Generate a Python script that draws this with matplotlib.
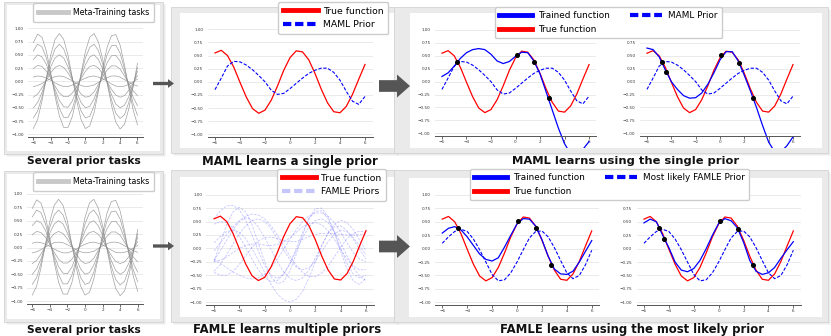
import numpy as np
import matplotlib.pyplot as plt
from matplotlib.patches import Rectangle, FancyArrow
from matplotlib.lines import Line2D

W, H = 831, 336

x = [-6.0, -5.5, -5.0, -4.5, -4.0, -3.5, -3.0, -2.5, -2.0, -1.5, -1.0, -0.5, 0.0,
     0.5, 1.0, 1.5, 2.0, 2.5, 3.0, 3.5, 4.0, 4.5, 5.0, 5.5, 6.0]

xticks = [-6, -4, -2, 0, 2, 4, 6]
yticks = [-1.0, -0.75, -0.5, -0.25, 0.0, 0.25, 0.5, 0.75, 1.0]

# meta-training tasks (grey)
tasks = [
    [0.73, 0.89, 0.83, 0.57, 0.17, -0.28, -0.65, -0.87, -0.87, -0.66, -0.29, 0.15, 0.56, 0.83, 0.90, 0.74, 0.41, -0.03, -0.45, -0.77, -0.90, -0.81, -0.52, -0.10, 0.34],
    [0.57, 0.70, 0.65, 0.44, 0.13, -0.21, -0.51, -0.68, -0.68, -0.52, -0.23, 0.12, 0.44, 0.64, 0.70, 0.58, 0.32, -0.02, -0.35, -0.60, -0.70, -0.63, -0.40, -0.08, 0.26],
    [0.41, 0.50, 0.46, 0.32, 0.09, -0.15, -0.36, -0.48, -0.49, -0.37, -0.16, 0.09, 0.31, 0.46, 0.50, 0.41, 0.23, -0.01, -0.25, -0.43, -0.50, -0.45, -0.29, -0.06, 0.19],
    [0.24, 0.30, 0.28, 0.19, 0.06, -0.09, -0.22, -0.29, -0.29, -0.22, -0.10, 0.05, 0.19, 0.28, 0.30, 0.25, 0.14, -0.01, -0.15, -0.26, -0.30, -0.27, -0.17, -0.03, 0.11],
    [0.08, 0.10, 0.09, 0.06, 0.02, -0.03, -0.07, -0.10, -0.10, -0.07, -0.03, 0.02, 0.06, 0.09, 0.10, 0.08, 0.05, 0.00, -0.05, -0.09, -0.10, -0.09, -0.06, -0.01, 0.04],
    [-0.89, -0.72, -0.37, 0.06, 0.49, 0.79, 0.90, 0.79, 0.49, 0.06, -0.37, -0.72, -0.89, -0.84, -0.59, -0.19, 0.26, 0.64, 0.86, 0.88, 0.68, 0.31, -0.13, -0.54, -0.82],
    [-0.69, -0.56, -0.29, 0.05, 0.38, 0.61, 0.70, 0.61, 0.38, 0.05, -0.29, -0.56, -0.69, -0.66, -0.46, -0.15, 0.20, 0.50, 0.67, 0.68, 0.53, 0.24, -0.10, -0.42, -0.64],
    [-0.50, -0.40, -0.21, 0.04, 0.27, 0.44, 0.50, 0.44, 0.27, 0.04, -0.21, -0.40, -0.50, -0.47, -0.33, -0.11, 0.14, 0.35, 0.48, 0.49, 0.38, 0.17, -0.07, -0.30, -0.46],
    [-0.30, -0.24, -0.12, 0.02, 0.16, 0.26, 0.30, 0.26, 0.16, 0.02, -0.12, -0.24, -0.30, -0.28, -0.20, -0.06, 0.09, 0.21, 0.29, 0.29, 0.23, 0.10, -0.04, -0.18, -0.27],
    [-0.10, -0.08, -0.04, 0.01, 0.05, 0.09, 0.10, 0.09, 0.05, 0.01, -0.04, -0.08, -0.10, -0.09, -0.07, -0.02, 0.03, 0.07, 0.10, 0.10, 0.08, 0.03, -0.01, -0.06, -0.09],
]

true_fn = [0.55, 0.60, 0.50, 0.28, -0.01, -0.29, -0.51, -0.60, -0.54, -0.35, -0.08, 0.22, 0.46,
           0.59, 0.57, 0.42, 0.16, -0.14, -0.40, -0.57, -0.59, -0.47, -0.24, 0.05, 0.33]

maml_prior = [-0.15, 0.07, 0.30, 0.39, 0.38, 0.32, 0.23, 0.12, 0.00, -0.16, -0.24, -0.22, -0.13,
              -0.03, 0.07, 0.16, 0.22, 0.26, 0.26, 0.18, 0.03, -0.18, -0.37, -0.43, -0.28]

maml_trained_a = [0.10, 0.17, 0.30, 0.45, 0.56, 0.62, 0.64, 0.62, 0.53, 0.40, 0.35, 0.39, 0.49,
                  0.57, 0.56, 0.40, 0.15, -0.20, -0.55, -0.90, -1.20, -1.40, -1.42, -1.31, -1.16]

maml_trained_b = [0.65, 0.62, 0.48, 0.23, 0.00, -0.15, -0.27, -0.32, -0.31, -0.22, -0.05, 0.17, 0.42,
                  0.58, 0.58, 0.40, 0.12, -0.18, -0.50, -0.85, -1.17, -1.36, -1.36, -1.24, -1.07]

famle_priors = [
    [-0.25, 0.10, 0.44, 0.68, 0.77, 0.68, 0.44, 0.10, -0.25, -0.53, -0.66, -0.62, -0.42, -0.10, 0.25, 0.56, 0.74, 0.75, 0.59, 0.30, -0.06, -0.38, -0.61, -0.67, -0.55],
    [0.10, 0.22, 0.31, 0.34, 0.30, 0.18, 0.00, -0.22, -0.45, -0.67, -0.85, -0.96, -1.00, -0.95, -0.80, -0.55, -0.25, 0.05, 0.28, 0.40, 0.42, 0.33, 0.17, -0.02, -0.20],
    [0.55, 0.70, 0.79, 0.80, 0.72, 0.52, 0.25, -0.05, -0.32, -0.50, -0.56, -0.48, -0.28, 0.00, 0.30, 0.55, 0.69, 0.70, 0.55, 0.30, 0.00, -0.28, -0.48, -0.55, -0.50],
    [-0.43, -0.30, -0.12, 0.08, 0.27, 0.42, 0.52, 0.55, 0.50, 0.37, 0.18, -0.03, -0.22, -0.35, -0.40, -0.36, -0.24, -0.06, 0.12, 0.27, 0.34, 0.31, 0.20, 0.04, -0.12],
    [-0.45, -0.50, -0.50, -0.43, -0.30, -0.14, 0.02, 0.14, 0.20, 0.21, 0.18, 0.14, 0.12, 0.13, 0.17, 0.22, 0.26, 0.28, 0.28, 0.27, 0.26, 0.25, 0.25, 0.26, 0.27],
    [-0.22, -0.05, 0.15, 0.35, 0.50, 0.57, 0.53, 0.40, 0.20, -0.02, -0.25, -0.44, -0.56, -0.60, -0.55, -0.40, -0.18, 0.05, 0.28, 0.45, 0.52, 0.48, 0.35, 0.15, -0.05],
    [0.45, 0.50, 0.48, 0.38, 0.22, 0.02, -0.20, -0.40, -0.55, -0.62, -0.60, -0.48, -0.28, -0.04, 0.20, 0.40, 0.52, 0.55, 0.48, 0.32, 0.10, -0.14, -0.36, -0.52, -0.60],
    [-0.25, -0.22, -0.16, -0.08, 0.00, 0.05, 0.08, 0.08, 0.06, 0.05, 0.07, 0.12, 0.20, 0.30, 0.40, 0.46, 0.48, 0.44, 0.33, 0.17, -0.02, -0.20, -0.33, -0.40, -0.40],
    [-0.05, 0.10, 0.25, 0.40, 0.52, 0.60, 0.64, 0.62, 0.55, 0.42, 0.25, 0.05, -0.15, -0.32, -0.45, -0.52, -0.53, -0.46, -0.33, -0.16, 0.02, 0.18, 0.28, 0.32, 0.30],
    [-0.20, -0.28, -0.36, -0.44, -0.50, -0.55, -0.57, -0.55, -0.48, -0.36, -0.20, -0.02, 0.17, 0.35, 0.50, 0.60, 0.66, 0.66, 0.60, 0.48, 0.30, 0.10, -0.08, -0.20, -0.25],
]

famle_prior = [0.10, 0.22, 0.32, 0.36, 0.32, 0.18, -0.02, -0.25, -0.48, -0.60, -0.58, -0.45, -0.25,
               -0.02, 0.20, 0.32, 0.33, 0.22, 0.02, -0.22, -0.45, -0.56, -0.50, -0.30, -0.03]

famle_trained_a = [0.29, 0.38, 0.41, 0.35, 0.22, 0.06, -0.10, -0.20, -0.23, -0.17, 0.03, 0.25, 0.46,
                   0.56, 0.55, 0.42, 0.17, -0.14, -0.38, -0.47, -0.48, -0.42, -0.25, -0.05, 0.15]

famle_trained_b = [0.48, 0.55, 0.50, 0.25, 0.02, -0.25, -0.40, -0.43, -0.37, -0.22, 0.00, 0.25, 0.47,
                   0.56, 0.52, 0.39, 0.12, -0.22, -0.42, -0.48, -0.45, -0.35, -0.18, -0.02, 0.13]

# observed points
obs_a_x = [-4.75, 0.1, 1.55, 2.75]
obs_a_y = [0.39, 0.51, 0.38, -0.31]
obs_b_x = [-4.8, -4.4, 0.1, 1.55, 2.75]
obs_b_y = [0.39, 0.18, 0.51, 0.37, -0.31]

RED = '#ff0000'
BLUE = '#0000ff'
LAV = '#c6c6fb'

fig = plt.figure(figsize=(W / 100, H / 100), dpi=100)

# background layer in pixel coordinates
bg = fig.add_axes([0, 0, 1, 1])
bg.set_xlim(0, W)
bg.set_ylim(H, 0)
bg.axis('off')


def frame(outer, inner):
    x0, y0, x1, y1 = outer
    for d in [3, 2, 1]:
        bg.add_patch(Rectangle((x0 + d, y0 + d), x1 - x0, y1 - y0, fc='#bdbdbd', ec='none', alpha=0.15))
    bg.add_patch(Rectangle((x0, y0), x1 - x0, y1 - y0, fc='#eaeaea', ec='#d3d3d3', lw=0.6))
    a0, b0, a1, b1 = inner
    bg.add_patch(Rectangle((a0, b0), a1 - a0, b1 - b0, fc='white', ec='none'))


def arrow(x0, x1, yc, shaft, head, head_len):
    bg.add_patch(FancyArrow(x0, yc, x1 - x0, 0, width=shaft, head_width=head,
                            head_length=head_len, length_includes_head=True,
                            fc='#555555', ec='none', zorder=5))


frame((4, 2, 163, 154), (7, 5, 160, 151))
frame((4, 171, 163, 322), (7, 174, 160, 319))
frame((171, 7, 396, 153), (180, 13, 394, 148))
frame((394, 7, 828, 153), (410, 13, 822, 148))
frame((171, 170, 396, 322), (180, 177, 394, 317))
frame((394, 170, 828, 322), (409, 178, 822, 317))

arrow(153, 174, 83.5, 3.3, 8.7, 6)
arrow(153, 174, 246, 3.3, 8.7, 6)
arrow(379, 410, 86, 11.7, 23, 13)
arrow(379, 410, 246.5, 11.7, 23, 13)

titles = ["Several prior tasks", "MAML learns a single prior", "MAML learns using the single prior",
          "Several prior tasks", "FAMLE learns multiple priors", "FAMLE learns using the most likely prior"]
title_pos = [(84, 161), (290, 161), (625.5, 161.5), (84, 330), (287.5, 330), (631.5, 329.5)]
title_size = [7.7, 8.4, 8.25, 7.7, 8.4, 8.35]
for t, (tx, ty), fs in zip(titles, title_pos, title_size):
    bg.text(tx, ty, t, ha='center', va='center', fontsize=fs, fontweight='bold', color='#111111')


def panel(box, ybot=-1.05):
    x0, y0, x1, y1 = box
    ax = fig.add_axes([x0 / W, 1 - y1 / H, (x1 - x0) / W, (y1 - y0) / H])
    ax.set_xlim(-6.6, 6.6)
    ax.set_ylim(ybot, 1.05)
    ax.set_xticks(xticks)
    ax.set_yticks(yticks)
    ax.patch.set_visible(False)
    for s in ['top', 'right', 'left']:
        ax.spines[s].set_visible(False)
    ax.spines['bottom'].set_position(('data', -1.05))
    ax.spines['bottom'].set_color('#555555')
    ax.spines['bottom'].set_linewidth(0.7)
    ax.grid(axis='y', color='#e6e6e6', lw=0.6)
    ax.set_axisbelow(True)
    ax.tick_params(axis='both', labelsize=3, colors='#333333', width=0.5)
    ax.tick_params(axis='x', length=2, pad=1)
    ax.tick_params(axis='y', length=0, pad=3)
    return ax


def legend(handles, labels, left, top, fs, hl, ncol=1, bp=0.5):
    fig.legend(handles, labels, loc='upper left', bbox_to_anchor=(left / W, 1 - top / H),
               ncol=ncol, fontsize=fs, frameon=True, framealpha=1, edgecolor='#cccccc',
               borderaxespad=0, borderpad=bp, labelspacing=0.5, handlelength=hl,
               handletextpad=0.6, columnspacing=2.25)


DASH = (3, 1.5)

# several prior tasks (top and bottom)
for box, ltop in [((28.1, 25.6, 142.7, 137.0), 3), ((27.0, 191.3, 143.0, 303.7), 172)]:
    ax = panel(box)
    for t in tasks:
        ax.plot(x, t, color='#8a8a8a', lw=0.5, alpha=0.8)
    legend([Line2D([], [], color='#c8c8c8', lw=3.5)], ["Meta-Training tasks"], 33, ltop,
           fs=5.7, hl=3.8, bp=0.65)

# MAML single prior
ax = panel((207.5, 26.7, 372.5, 136.9))
ax.plot(x, true_fn, color=RED, lw=0.9)
ax.plot(x, maml_prior, color=BLUE, lw=0.8, dashes=DASH)
legend([Line2D([], [], color=RED, lw=3.5), Line2D([], [], color=BLUE, lw=3, dashes=(2, 0.9))],
       ["True function", "MAML Prior"], 278, 2, fs=6.7, hl=3.75)

# MAML adaptation
for box, trained, ox, oy in [((434.6, 27.4, 596.4, 148.3), maml_trained_a, obs_a_x, obs_a_y),
                             ((639.7, 27.4, 800.3, 148.3), maml_trained_b, obs_b_x, obs_b_y)]:
    ax = panel(box, ybot=-1.29)
    ax.plot(x, true_fn, color=RED, lw=0.9)
    ax.plot(x, maml_prior, color=BLUE, lw=0.8, dashes=DASH)
    ax.plot(x, trained, color=BLUE, lw=0.9)
    ax.plot(ox, oy, 'o', color='black', ms=2.6, zorder=5)
legend([Line2D([], [], color=BLUE, lw=3.5), Line2D([], [], color=RED, lw=3.5),
        Line2D([], [], color=BLUE, lw=3, dashes=(2, 0.9))],
       ["Trained function", "True function", "MAML Prior"], 495, 7, fs=6.4, hl=3.7, ncol=2)

# FAMLE multiple priors
ax = panel((206.4, 192.0, 373.6, 304.7))
for p in famle_priors:
    ax.plot(x, p, color='#5c5cff', lw=0.6, alpha=0.35, dashes=DASH)
ax.plot(x, true_fn, color=RED, lw=0.9)
legend([Line2D([], [], color=RED, lw=3.5), Line2D([], [], color=LAV, lw=3, dashes=(2, 0.9))],
       ["True function", "FAMLE Priors"], 277, 169, fs=6.6, hl=3.75)

# FAMLE adaptation
for box, trained, ox, oy in [((434.8, 192.3, 599.2, 305.0), famle_trained_a, obs_a_x, obs_a_y),
                             ((636.5, 192.3, 800.8, 305.0), famle_trained_b, obs_b_x, obs_b_y)]:
    ax = panel(box)
    ax.plot(x, true_fn, color=RED, lw=0.9)
    ax.plot(x, famle_prior, color=BLUE, lw=0.8, dashes=DASH)
    ax.plot(x, trained, color=BLUE, lw=0.9)
    ax.plot(ox, oy, 'o', color='black', ms=2.6, zorder=5)
legend([Line2D([], [], color=BLUE, lw=3.5), Line2D([], [], color=RED, lw=3.5),
        Line2D([], [], color=BLUE, lw=3, dashes=(2, 0.9))],
       ["Trained function", "True function", "Most likely FAMLE Prior"], 470, 169,
       fs=6.4, hl=3.7, ncol=2)

fig.savefig('out.png', dpi=100)
